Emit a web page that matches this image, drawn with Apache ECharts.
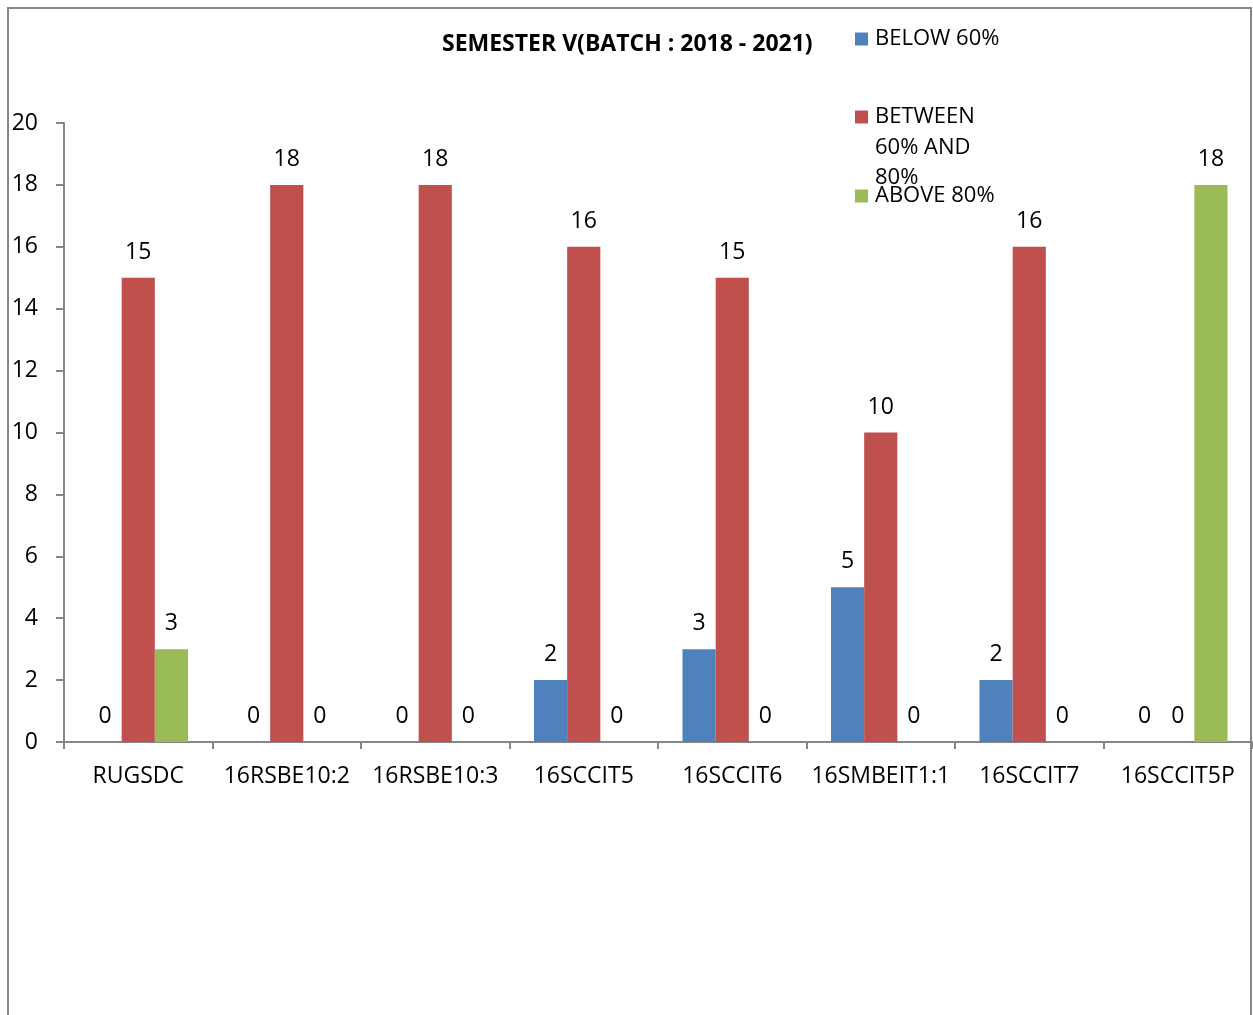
<!DOCTYPE html>
<html>
<head>
<meta charset="utf-8">
<script src="https://cdn.jsdelivr.net/npm/echarts@6/dist/echarts.min.js"></script>
<style>
  html, body { margin: 0; padding: 0; background: #fff; }
  #root { width: 1253px; height: 1015px; }
</style>
</head>
<body>
<div id="root"></div>
<script>
// chart values
const categories = ['RUGSDC', '16RSBE10:2', '16RSBE10:3', '16SCCIT5', '16SCCIT6', '16SMBEIT1:1', '16SCCIT7', '16SCCIT5P']
const below60 = [0, 0, 0, 2, 3, 5, 2, 0]
const between60and80 = [15, 18, 18, 16, 15, 10, 16, 0]
const above80 = [3, 0, 0, 0, 0, 0, 0, 18]
const seriesNames = ['BELOW 60%', 'BETWEEN 60% AND 80%', 'ABOVE 80%']
const yTicks = [0, 2, 4, 6, 8, 10, 12, 14, 16, 18, 20]

const fontFam = 'Open Sans'
const fs = 23
const axisGrey = '#868686'
const colors = ['#4F81BD', '#C0504D', '#9BBB59']

const myChart = echarts.init(document.getElementById('root'))

const barLabel = {
  show: true,
  position: 'top',
  distance: 14,
  color: '#000',
  fontFamily: fontFam,
  fontSize: fs
}

// one legend per entry so each can sit where the original puts it
function legendFor (name, top) {
  return {
    left: 855,
    top: top,
    padding: 0,
    itemWidth: 13,
    itemHeight: 13,
    itemGap: 0,
    icon: 'rect',
    data: [name],
    selectedMode: false,
    // the long entry wraps; only its first line sits next to the marker
    formatter: n => n === seriesNames[1] ? 'BETWEEN' : n,
    textStyle: {
      fontFamily: fontFam,
      fontSize: 22,
      color: '#000',
      padding: [0, 0, 0, 2]
    }
  }
}

const legendWrapText = {
  fontFamily: fontFam,
  fontSize: 22,
  fill: '#000'
}

const option = {
  animation: false,
  title: {
    text: 'SEMESTER V(BATCH : 2018 - 2021)',
    left: 442,
    top: 33,
    padding: 0,
    textStyle: {
      fontFamily: fontFam,
      fontSize: fs,
      fontWeight: 'bold',
      color: '#000'
    }
  },
  legend: [
    legendFor(seriesNames[0], 28),
    legendFor(seriesNames[1], 106),
    legendFor(seriesNames[2], 185)
  ],
  graphic: [
    {
      type: 'rect',
      shape: { x: 8, y: 8, width: 1243, height: 1100 },
      style: { fill: 'none', stroke: axisGrey, lineWidth: 2 },
      silent: true
    },
    { type: 'text', left: 875, top: 137, style: Object.assign({ text: '60% AND' }, legendWrapText) },
    { type: 'text', left: 875, top: 167, style: Object.assign({ text: '80%' }, legendWrapText) }
  ],
  grid: {
    left: 64,
    right: 1,
    top: 123,
    bottom: 273,
    containLabel: false
  },
  xAxis: {
    type: 'category',
    data: categories,
    axisLine: { lineStyle: { color: axisGrey, width: 2 } },
    axisTick: { show: true, length: 7, lineStyle: { color: axisGrey, width: 2 } },
    axisLabel: {
      color: '#000',
      fontFamily: fontFam,
      fontSize: fs,
      margin: 23,
      interval: 0
    }
  },
  yAxis: {
    type: 'value',
    min: yTicks[0],
    max: yTicks[yTicks.length - 1],
    interval: 2,
    splitLine: { show: false },
    axisLine: { show: true, lineStyle: { color: axisGrey, width: 2 } },
    axisTick: { show: true, length: 8, lineStyle: { color: axisGrey, width: 2 } },
    axisLabel: {
      color: '#000',
      fontFamily: fontFam,
      fontSize: fs,
      margin: 26,
      align: 'right'
    }
  },
  series: [
    { name: seriesNames[0], type: 'bar', data: below60, itemStyle: { color: colors[0] }, barGap: '0%', barCategoryGap: '33%', label: barLabel },
    { name: seriesNames[1], type: 'bar', data: between60and80, itemStyle: { color: colors[1] }, barGap: '0%', barCategoryGap: '33%', label: barLabel },
    { name: seriesNames[2], type: 'bar', data: above80, itemStyle: { color: colors[2] }, barGap: '0%', barCategoryGap: '33%', label: barLabel }
  ]
}

myChart.setOption(option)
</script>
</body>
</html>
